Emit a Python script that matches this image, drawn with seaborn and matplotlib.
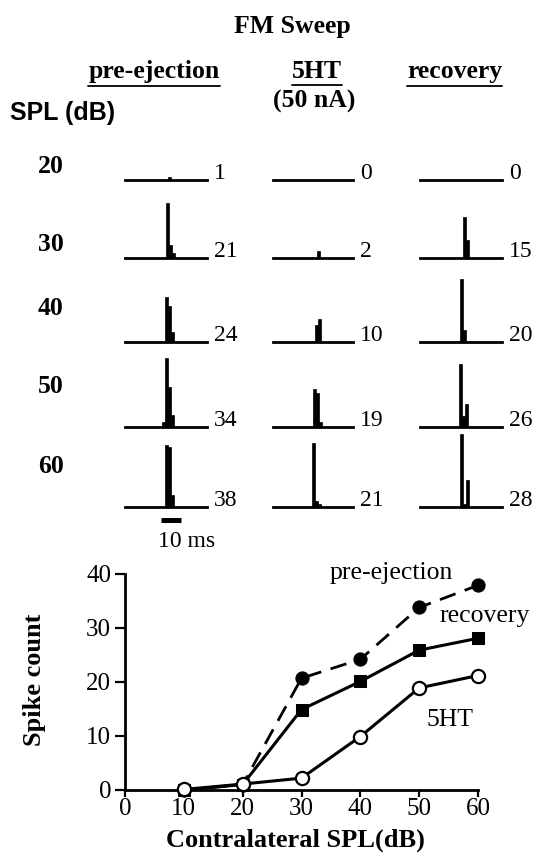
import numpy as np
import pandas as pd
import matplotlib
matplotlib.use("Agg")
import matplotlib.pyplot as plt
import seaborn as sns
from matplotlib.lines import Line2D

# ---------------- data ----------------
spl_rows = [20, 30, 40, 50, 60]
totals_pre = [1, 21, 24, 34, 38]
totals_5ht = [0, 2, 10, 19, 21]
totals_rec = [0, 15, 20, 26, 28]

# PSTH bins (1.5 ms bins, heights in arbitrary bin units), onset of first bin in ms
bin_ms = 1.5
psth_pre_onset = [21.0, 20.0, 19.5, 18.0, 19.5]
psth_pre_bins = [[3], [55, 13, 5], [45, 36, 10], [5, 69, 40, 12], [62, 60, 12]]
psth_5ht_onset = [0.0, 22.0, 21.0, 20.0, 19.5]
psth_5ht_bins = [[], [7], [17, 23], [38, 34, 5], [64, 6, 3]]
psth_rec_onset = [0.0, 21.0, 19.5, 19.0, 19.5]
psth_rec_bins = [[], [41, 18], [63, 12], [63, 11, 23], [73, 3, 27]]

# spike-count vs contralateral SPL
curve_spl = [10, 20, 30, 40, 50, 60]
curve_pre = [0, 1, 20.7, 24.2, 33.8, 37.9]
curve_rec = [0, 1, 14.9, 20.1, 25.9, 28.1]
curve_5ht = [0.1, 1.1, 2.2, 9.9, 18.9, 21.2]

# ---------------- style ----------------
sns.set_style("ticks")
SERIF = ["Liberation Serif", "DejaVu Serif"]
plt.rcParams["font.family"] = SERIF
for key in ["text.color", "axes.labelcolor", "xtick.color", "ytick.color", "axes.edgecolor"]:
    plt.rcParams[key] = "black"

W, H = 537, 857
fig = plt.figure(figsize=(W / 100, H / 100), dpi=100)


def fx(x):
    return x / W


def fy(y):
    return 1 - y / H


# ---------------- headers ----------------
HFS = 18.5
fig.text(fx(292), fy(33), "FM Sweep", ha="center", va="baseline", fontsize=HFS, fontweight="bold")
h_pre = fig.text(fx(154), fy(78), "pre-ejection", ha="center", va="baseline", fontsize=HFS, fontweight="bold")
h_5ht = fig.text(fx(316.5), fy(78), "5HT", ha="center", va="baseline", fontsize=HFS, fontweight="bold")
fig.text(fx(314.5), fy(108), "(50 nA)", ha="center", va="baseline", fontsize=HFS, fontweight="bold")
h_rec = fig.text(fx(454.5), fy(78), "recovery", ha="center", va="baseline", fontsize=HFS, fontweight="bold")
fig.text(fx(10), fy(120), "SPL (dB)", ha="left", va="baseline", fontsize=18, fontweight="bold",
         family=["Liberation Sans", "DejaVu Sans"])

row_label_base = [173, 251, 315, 393, 473]
for lab, yb in zip(spl_rows, row_label_base):
    fig.text(fx(51), fy(yb), str(lab), ha="center", va="baseline", fontsize=HFS, fontweight="bold")

# ---------------- PSTH panels ----------------
col_left = [125, 273, 420]
col_width = [82, 80, 82]
row_base = [180, 258, 342, 427, 507]
cols = [
    (psth_pre_onset, psth_pre_bins, totals_pre),
    (psth_5ht_onset, psth_5ht_bins, totals_5ht),
    (psth_rec_onset, psth_rec_bins, totals_rec),
]
psth_axes = {}
for ci, (onsets, binsets, totals) in enumerate(cols):
    for ri in range(len(spl_rows)):
        ax = fig.add_axes([fx(col_left[ci]), fy(row_base[ri]), col_width[ci] / W, 80 / H])
        ax.patch.set_alpha(0)
        heights = binsets[ri]
        if len(heights) > 0:
            n = len(heights)
            t_centers = [onsets[ri] + bin_ms * (k + 0.5) for k in range(n)]
            df = pd.DataFrame({"t": t_centers, "w": heights})
            sns.histplot(data=df, x="t", weights="w", binwidth=bin_ms,
                         binrange=(onsets[ri], onsets[ri] + n * bin_ms), ax=ax, color="black",
                         alpha=1, edgecolor="black", linewidth=0.5, element="bars")
        ax.set_xlim(0, 40)
        ax.set_ylim(0, 80)
        ax.set_xticks([])
        ax.set_yticks([])
        ax.set_xlabel("")
        ax.set_ylabel("")
        for s in ["top", "left", "right"]:
            ax.spines[s].set_visible(False)
        ax.spines["bottom"].set_linewidth(2.0)
        ax.annotate(str(totals[ri]), xy=(1, 0), xycoords="axes fraction",
                    xytext=(5, 1), textcoords="offset points", ha="left", va="baseline",
                    fontsize=17)
        psth_axes[(ci, ri)] = ax

# scale bar under pre-ejection 60 dB
scale_ms = 10
axs = psth_axes[(0, 4)]
axs.plot([17.5, 17.5 + scale_ms], [-13, -13], color="black", lw=3.6, solid_capstyle="butt", clip_on=False)
axs.text(16.3, -40, f"{scale_ms} ms", ha="left", va="baseline", fontsize=17)

# ---------------- spike count curves ----------------
ax2 = fig.add_axes([fx(125), fy(790), 353 / W, 216 / H])
ax2.patch.set_alpha(0)
sns.lineplot(x=curve_spl, y=curve_pre, ax=ax2, color="black", lw=2, marker="o", markersize=9.5,
             markerfacecolor="black", markeredgecolor="black", clip_on=False, zorder=3)
ax2.lines[-1].set_linestyle((0, (6, 3.5)))
sns.lineplot(x=curve_spl, y=curve_rec, ax=ax2, color="black", lw=2.2, marker="s", markersize=8.5,
             markerfacecolor="black", markeredgecolor="black", clip_on=False, zorder=4)
sns.lineplot(x=curve_spl, y=curve_5ht, ax=ax2, color="black", lw=2.2, marker="o", markersize=9.5,
             markerfacecolor="white", markeredgecolor="black", markeredgewidth=1.6,
             clip_on=False, zorder=5)

ax2.set_xlim(0, 60)
ax2.set_ylim(0, 40)
ax2.set_xticks([0, 10, 20, 30, 40, 50, 60])
ax2.set_yticks([0, 10, 20, 30, 40])
for s in ["top", "right"]:
    ax2.spines[s].set_visible(False)
for s in ["left", "bottom"]:
    ax2.spines[s].set_linewidth(2.0)
    ax2.spines[s].set_color("black")
ax2.tick_params(axis="y", direction="out", length=7, width=1.6, labelsize=18, pad=3, colors="black")
ax2.tick_params(axis="x", direction="out", length=5, width=1.6, labelsize=18, pad=1, colors="black")

ax2.set_xlabel("Contralateral SPL(dB)", fontsize=19, fontweight="bold", color="black")
ax2.xaxis.set_label_coords(0.484, -0.231)
ax2.xaxis.label.set_va("center")
ax2.set_ylabel("Spike count", fontsize=19, fontweight="bold", color="black")
ax2.yaxis.set_label_coords(-0.255, 0.509)
ax2.yaxis.label.set_va("center")

ax2.text(34.7, 39.1, "pre-ejection", ha="left", va="baseline", fontsize=18.5, clip_on=False)
ax2.text(53.5, 31.1, "recovery", ha="left", va="baseline", fontsize=18.5, clip_on=False)
ax2.text(51.3, 11.9, "5HT", ha="left", va="baseline", fontsize=18.5, clip_on=False)

# ---------------- underlines for headers ----------------
fig.canvas.draw()
renderer = fig.canvas.get_renderer()
for t, yline in [(h_pre, 86), (h_5ht, 85), (h_rec, 86)]:
    bb = t.get_window_extent(renderer)
    fig.add_artist(Line2D([bb.x0 / W, bb.x1 / W], [fy(yline), fy(yline)],
                          transform=fig.transFigure, color="black", lw=1.3))

fig.savefig("out.png", dpi=100)
